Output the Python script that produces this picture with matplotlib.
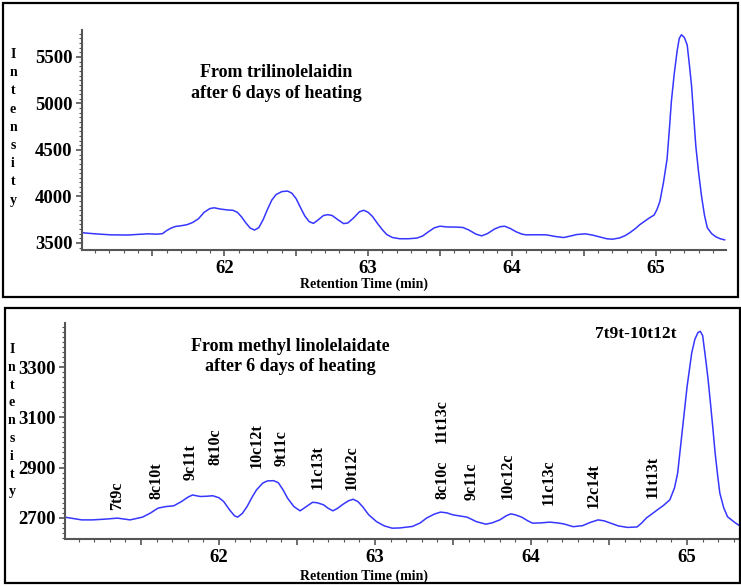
import matplotlib.pyplot as plt
from matplotlib.ticker import MultipleLocator, FixedLocator, FuncFormatter
from matplotlib.patches import Rectangle

# ---- top panel: from trilinolelaidin ----
top_time = [61.01, 61.10, 61.21, 61.33, 61.40, 61.47, 61.53, 61.57, 61.60, 61.63,
            61.66, 61.70, 61.74, 61.78, 61.82, 61.86, 61.90, 61.93, 61.97, 62.02,
            62.06, 62.09, 62.12, 62.15, 62.18, 62.21, 62.24, 62.27, 62.30, 62.33,
            62.36, 62.40, 62.44, 62.47, 62.50, 62.53, 62.56, 62.59, 62.62, 62.65,
            62.69, 62.72, 62.75, 62.79, 62.83, 62.86, 62.90, 62.94, 62.97, 63.00,
            63.03, 63.07, 63.10, 63.13, 63.17, 63.22, 63.28, 63.34, 63.38, 63.42,
            63.46, 63.50, 63.55, 63.62, 63.66, 63.70, 63.75, 63.79, 63.83, 63.88,
            63.92, 63.95, 63.99, 64.03, 64.07, 64.10, 64.17, 64.24, 64.30, 64.36,
            64.41, 64.45, 64.51, 64.56, 64.61, 64.66, 64.70, 64.75, 64.79, 64.82,
            64.86, 64.89, 64.93, 64.96, 64.99, 65.01, 65.03, 65.055, 65.08, 65.095,
            65.11, 65.13, 65.15, 65.165, 65.18, 65.20, 65.22, 65.235, 65.25, 65.265,
            65.28, 65.30, 65.32, 65.34, 65.36, 65.39, 65.42, 65.45, 65.48]
top_intensity = [3610, 3598, 3587, 3585, 3592, 3598, 3594, 3600, 3634, 3660,
                 3677, 3685, 3696, 3720, 3760, 3830, 3870, 3878, 3865, 3855,
                 3851, 3830, 3780, 3715, 3660, 3638, 3665, 3750, 3860, 3960,
                 4020, 4052, 4058, 4035, 3975, 3880, 3790, 3730, 3710, 3745,
                 3795, 3804, 3795, 3750, 3708, 3715, 3770, 3835, 3851, 3830,
                 3786, 3700, 3641, 3590, 3558, 3545, 3545, 3552, 3575, 3620,
                 3662, 3680, 3672, 3670, 3666, 3640, 3595, 3576, 3600, 3650,
                 3675, 3680, 3655, 3620, 3595, 3587, 3588, 3587, 3570, 3558,
                 3575, 3590, 3598, 3585, 3565, 3545, 3540, 3554, 3580, 3609,
                 3655, 3696, 3740, 3772, 3800, 3860, 3946, 4150, 4402, 4700,
                 5022, 5320, 5565, 5700, 5739, 5710, 5630, 5420, 5196, 4870,
                 4543, 4250, 4000, 3800, 3663, 3600, 3565, 3545, 3533]

# ---- bottom panel: from methyl linolelaidate ----
bot_time = [61.01, 61.07, 61.12, 61.19, 61.27, 61.35, 61.43, 61.51, 61.56, 61.61,
            61.66, 61.71, 61.76, 61.80, 61.83, 61.88, 61.92, 61.96, 62.00, 62.03,
            62.07, 62.10, 62.12, 62.15, 62.18, 62.21, 62.24, 62.28, 62.31, 62.35,
            62.38, 62.41, 62.44, 62.48, 62.52, 62.56, 62.60, 62.63, 62.67, 62.70,
            62.73, 62.76, 62.79, 62.83, 62.86, 62.89, 62.92, 62.96, 63.01, 63.06,
            63.11, 63.16, 63.24, 63.29, 63.33, 63.38, 63.42, 63.46, 63.50, 63.55,
            63.59, 63.65, 63.71, 63.75, 63.80, 63.84, 63.87, 63.90, 63.94, 63.98,
            64.01, 64.06, 64.12, 64.17, 64.21, 64.27, 64.33, 64.38, 64.43, 64.47,
            64.51, 64.56, 64.62, 64.68, 64.71, 64.74, 64.78, 64.81, 64.85, 64.89,
            64.92, 64.94, 64.97, 65.00, 65.03, 65.05, 65.07, 65.085, 65.10, 65.12,
            65.135, 65.15, 65.165, 65.18, 65.195, 65.21, 65.235, 65.26, 65.31, 65.34]
bot_intensity = [2703, 2697, 2692, 2692, 2695, 2699, 2692, 2703, 2719, 2739,
                 2745, 2748, 2765, 2782, 2791, 2785, 2786, 2788, 2780, 2765,
                 2730, 2708, 2703, 2718, 2745, 2780, 2811, 2838, 2847, 2848,
                 2840, 2812, 2778, 2745, 2728, 2745, 2762, 2760, 2752, 2738,
                 2728, 2738, 2752, 2768, 2774, 2765, 2745, 2712, 2685, 2668,
                 2659, 2660, 2666, 2680, 2699, 2715, 2723, 2720, 2712, 2707,
                 2703, 2685, 2675, 2680, 2692, 2708, 2716, 2712, 2703, 2688,
                 2679, 2680, 2683, 2680, 2676, 2665, 2669, 2682, 2692, 2688,
                 2679, 2668, 2662, 2664, 2680, 2700, 2718, 2732, 2750, 2772,
                 2820, 2879, 3050, 3221, 3356, 3410, 3437, 3442, 3425, 3328,
                 3250, 3157, 3060, 2958, 2875, 2799, 2740, 2704, 2680, 2668]

# isomer labels (name, retention time, intensity at label foot)
peak_names = ['7t9c', '8c10t', '9c11t', '8t10c', '10c12t', '9t11c', '11c13t', '10t12c',
              '8c10c', '11t13c', '9c11c', '10c12c', '11c13c', '12c14t', '11t13t']
peak_time = [61.35, 61.60, 61.82, 61.98, 62.24, 62.40, 62.63, 62.85,
             63.43, 63.43, 63.62, 63.85, 64.11, 64.40, 64.78]
peak_foot = [2732, 2776, 2851, 2911, 2899, 2907, 2815, 2811,
             2776, 2998, 2772, 2776, 2752, 2740, 2780]

top_yticks = [3500, 4000, 4500, 5000, 5500]
bot_yticks = [2700, 2900, 3100, 3300]

SERIF = 'Liberation Serif'
LINE = '#3636ff'
AXC = '#555555'


def style_axis(ax, xlim, ylim, yticks, ymin):
    ax.set_xlim(*xlim)
    ax.set_ylim(*ylim)
    for s in ['top', 'right']:
        ax.spines[s].set_visible(False)
    for s in ['left', 'bottom']:
        ax.spines[s].set_color(AXC)
        ax.spines[s].set_linewidth(1.5)
    ax.xaxis.set_major_locator(MultipleLocator(0.5))
    ax.xaxis.set_minor_locator(MultipleLocator(0.1))
    ax.xaxis.set_major_formatter(FuncFormatter(
        lambda v, p: f'{int(round(v))}' if abs(v - round(v)) < 1e-6 else ''))
    ax.yaxis.set_major_locator(FixedLocator(yticks))
    ax.yaxis.set_minor_locator(MultipleLocator(ymin))
    ax.tick_params(which='major', length=4, width=1.2, color=AXC, pad=3)
    ax.tick_params(which='minor', length=2, width=0.8, color=AXC)
    for lab in ax.get_xticklabels() + ax.get_yticklabels():
        lab.set_fontfamily(SERIF)
        lab.set_fontweight('bold')
        lab.set_fontsize(13.5)


fig = plt.figure(figsize=(7.41, 5.86), dpi=100)
W, H = 741, 586

# frames around each panel
fig.patches.append(Rectangle((3 / W, 1 - 297 / H), 735 / W, 294 / H, transform=fig.transFigure,
                             fill=False, edgecolor='black', linewidth=1.6))
fig.patches.append(Rectangle((5 / W, 1 - 583 / H), 735 / W, 275 / H, transform=fig.transFigure,
                             fill=False, edgecolor='black', linewidth=1.6))

# top panel
ax1 = fig.add_axes([82 / W, 1 - 250 / H, 644 / W, 220 / H])
ax1.plot(top_time, top_intensity, color=LINE, linewidth=1.1)
style_axis(ax1, (61.01, 65.49), (3424, 5790), top_yticks, 50)
fig.text(276 / W, 1 - 64 / H, 'From trilinolelaidin\nafter 6 days of heating',
         ha='center', va='top', fontsize=13, fontweight='bold', family=SERIF,
         linespacing=1.3)
fig.text(364 / W, 1 - 284 / H, 'Retention Time (min)', ha='center', va='center',
         fontsize=10, fontweight='bold', family=SERIF)
fig.text(13 / W, 1 - 48 / H, '\n'.join('Intensity'), ha='center', va='top',
         fontsize=10, fontweight='bold', family=SERIF, linespacing=1.52)

# bottom panel
ax2 = fig.add_axes([65 / W, 1 - 539 / H, 674 / W, 216 / H])
ax2.plot(bot_time, bot_intensity, color=LINE, linewidth=1.1)
style_axis(ax2, (61.013, 65.333), (2616, 3475), bot_yticks, 20)
for name, t, y in zip(peak_names, peak_time, peak_foot):
    ax2.text(t, y, name, rotation=90, ha='center', va='bottom', fontsize=11.5,
             fontweight='bold', family=SERIF)
ax2.text(64.67, 3432, '7t9t-10t12t', ha='center', va='center', fontsize=12.5,
         fontweight='bold', family=SERIF)
fig.text(290 / W, 1 - 338 / H, 'From methyl linolelaidate\nafter 6 days of heating',
         ha='center', va='top', fontsize=13, fontweight='bold', family=SERIF,
         linespacing=1.25)
fig.text(364 / W, 1 - 576 / H, 'Retention Time (min)', ha='center', va='center',
         fontsize=10, fontweight='bold', family=SERIF)
fig.text(12 / W, 1 - 343 / H, '\n'.join('Intensity'), ha='center', va='top',
         fontsize=10, fontweight='bold', family=SERIF, linespacing=1.48)

fig.savefig('out.png', dpi=100)
